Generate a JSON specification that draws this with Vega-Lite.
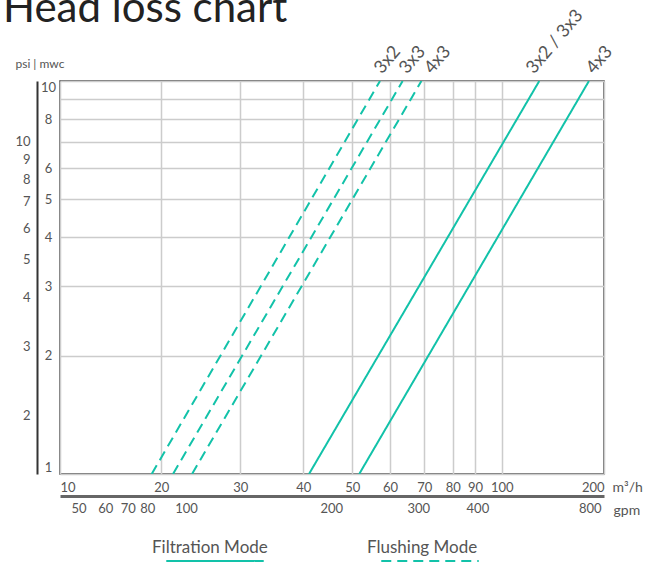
{
  "$schema": "https://vega.github.io/schema/vega-lite/v6.json",
  "width": 544,
  "height": 393,
  "autosize": {"type": "none"},
  "padding": {"left": 60, "top": 81, "right": 51, "bottom": 88},
  "background": "white",
  "title": {
    "text": "Head loss chart",
    "anchor": "start",
    "frame": "group",
    "fontSize": 42,
    "font": "Lato",
    "fontWeight": "normal",
    "color": "#222222",
    "dx": -57,
    "dy": 28,
    "offset": 0
  },
  "config": {
    "view": {"stroke": "#444444", "strokeWidth": 1.5},
    "font": "Lato",
    "axis": {"labelFont": "Lato", "titleFont": "Lato", "labelColor": "#555555", "titleColor": "#555555", "titleFontWeight": "normal"}
  },
  "datasets": {
    "lines": [
      {"series": "F-3x2", "mode": "Flushing Mode", "flow": 18.73, "head": 1},
      {"series": "F-3x2", "mode": "Flushing Mode", "flow": 57.17, "head": 10},
      {"series": "F-3x3", "mode": "Flushing Mode", "flow": 21.24, "head": 1},
      {"series": "F-3x3", "mode": "Flushing Mode", "flow": 63.5, "head": 10},
      {"series": "F-4x3", "mode": "Flushing Mode", "flow": 23.42, "head": 1},
      {"series": "F-4x3", "mode": "Flushing Mode", "flow": 69.1, "head": 10},
      {"series": "R-3x2/3x3", "mode": "Filtration Mode", "flow": 41.05, "head": 1},
      {"series": "R-3x2/3x3", "mode": "Filtration Mode", "flow": 129.0, "head": 10},
      {"series": "R-4x3", "mode": "Filtration Mode", "flow": 51.7, "head": 1},
      {"series": "R-4x3", "mode": "Filtration Mode", "flow": 180.6, "head": 10}
    ],
    "labels": [
      {"label": "3x2", "flow": 56.3, "head": 10},
      {"label": "3x3", "flow": 63.3, "head": 10},
      {"label": "4x3", "flow": 70.9, "head": 10},
      {"label": "3x2  / 3x3", "flow": 120.3, "head": 10},
      {"label": "4x3", "flow": 180.6, "head": 10}
    ]
  },
  "layer": [
    {
      "data": {"name": "lines"},
      "mark": {"type": "line", "color": "#12c2a9", "strokeWidth": 2, "clip": true},
      "encoding": {
        "x": {
          "field": "flow", "type": "quantitative",
          "scale": {"type": "log", "domain": [10, 20, 30, 40, 50, 60, 70, 80, 90, 100, 200], "range": [0, 101.3, 180.3, 243.3, 292.3, 330, 364.3, 392.7, 415, 441.7, 544], "nice": false},
          "axis": {
            "orient": "bottom", "values": [10, 20, 30, 40, 50, 60, 70, 80, 90, 100, 200],
            "grid": true, "gridColor": "#cccccc", "gridWidth": 1.5,
            "ticks": false, "domain": false, "labelFlush": true,
            "labelFontSize": 13, "labelPadding": 7,
            "title": "m³/h", "titleX": 552, "titleY": 13, "titleAlign": "left", "titleBaseline": "middle", "titleAngle": 0, "titleFontSize": 14
          }
        },
        "y": {
          "field": "head", "type": "quantitative",
          "scale": {"type": "log", "domain": [1, 10], "nice": false},
          "axis": {
            "orient": "left", "values": [1, 2, 3, 4, 5, 6, 7, 8, 9, 10],
            "labelExpr": "datum.value == 7 || datum.value == 9 ? '' : datum.label",
            "grid": true, "gridColor": "#cccccc", "gridWidth": 1.5,
            "ticks": false, "tickSize": 0, "domain": false, "labelFlush": true,
            "labelAlign": "center", "labelPadding": 12, "labelFontSize": 13,
            "title": null
          }
        },
        "detail": {"field": "series"},
        "strokeDash": {
          "field": "mode", "type": "nominal",
          "scale": {"domain": ["Filtration Mode", "Flushing Mode"], "range": [[1, 0], [10, 6]]},
          "legend": {
            "orient": "none", "legendX": 105, "legendY": 430, "direction": "horizontal",
            "title": null, "symbolType": "stroke", "symbolSize": 9500,
            "symbolStrokeColor": "#12c2a9", "symbolStrokeWidth": 2,
            "labelFontSize": 17, "labelColor": "#555555", "labelFont": "Lato",
            "labelBaseline": "bottom", "labelOffset": -113, "columnPadding": 99, "padding": 0,
            "encode": {"labels": {"update": {"dy": {"value": -4}}}}
          }
        }
      }
    },
    {
      "data": {"name": "labels"},
      "mark": {"type": "text", "angle": -50, "align": "left", "baseline": "alphabetic", "fontSize": 18, "font": "Lato", "color": "#555555", "dx": 8},
      "encoding": {
        "x": {"field": "flow", "type": "quantitative", "axis": null},
        "y": {"field": "head", "type": "quantitative", "axis": null},
        "text": {"field": "label"}
      }
    },
    {
      "data": {"name": "lines"},
      "mark": {"type": "point", "opacity": 0},
      "encoding": {
        "x": {
          "field": "flow", "type": "quantitative",
          "axis": {
            "orient": "bottom", "offset": 22,
            "values": [11.356, 13.627, 15.899, 18.170, 22.712, 45.425, 68.137, 90.849, 181.70],
            "labelExpr": "format(datum.value * 4.4029, '.0f')",
            "grid": false, "ticks": false, "domain": true, "domainColor": "#666666", "domainWidth": 3,
            "labelFontSize": 13, "labelPadding": 6,
            "title": "gpm", "titleX": 553, "titleY": 14, "titleAlign": "left", "titleBaseline": "middle", "titleAngle": 0, "titleFontSize": 14
          }
        },
        "y": {
          "field": "head", "type": "quantitative",
          "axis": {
            "orient": "left", "offset": 23,
            "values": [1.4062, 2.1093, 2.8124, 3.5155, 4.2186, 4.9217, 5.6248, 6.3279, 7.031],
            "labelExpr": "format(datum.value * 1.4223, '.0f')",
            "grid": false, "ticks": false, "domain": true, "domainColor": "#333333", "domainWidth": 2,
            "labelAlign": "right", "labelPadding": 7, "labelFontSize": 13,
            "title": "psi | mwc", "titleX": -22, "titleY": -18, "titleAlign": "left", "titleBaseline": "middle", "titleAngle": 0, "titleFontSize": 12
          }
        }
      }
    }
  ],
  "resolve": {"axis": {"x": "independent", "y": "independent"}}
}
